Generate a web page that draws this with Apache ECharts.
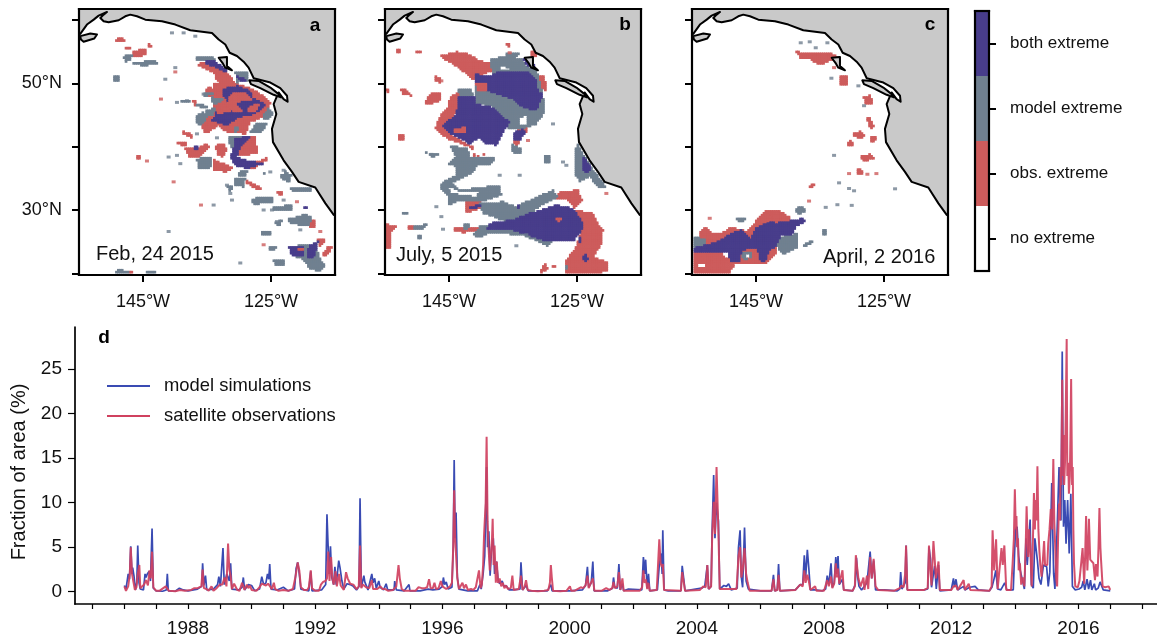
<!DOCTYPE html>
<html><head><meta charset="utf-8">
<style>html,body{margin:0;padding:0;background:#fff}#c{width:1157px;height:641px}</style>
<script src="https://cdn.jsdelivr.net/npm/echarts@6/dist/echarts.min.js"></script>
</head><body><div id="c"></div>
<script>
// ---------- time series (year, % of area) ----------
const modelSeries=[[1986,.7],[1986.05,.3],[1986.12,2],[1986.16,1.4],[1986.2,5.1],[1986.24,2],[1986.26,2.7],[1986.3,1.8],[1986.35,.2],[1986.39,1],[1986.42,5.2],[1986.46,1],[1986.5,.3],[1986.6,.2],[1986.65,2],[1986.68,1.6],[1986.72,2],[1986.78,2.3],[1986.82,1.2],[1986.87,7.1],[1986.91,.4],[1987,.1],[1987.2,.05],[1987.32,.2],[1987.35,2],[1987.38,.1],[1987.6,.05],[1987.73,.4],[1987.85,.2],[1988,.1],[1988.3,.3],[1988.43,.6],[1988.46,3.2],[1988.5,.7],[1988.55,1.8],[1988.59,.2],[1988.8,.3],[1988.93,.8],[1988.97,1.7],[1989.02,.6],[1989.07,.7],[1989.1,4.9],[1989.14,.8],[1989.22,2],[1989.3,1.2],[1989.34,3.2],[1989.38,.3],[1989.6,.2],[1989.7,.5],[1989.74,1.6],[1989.78,.2],[1989.9,.8],[1990,.7],[1990.1,.1],[1990.25,.3],[1990.32,1.7],[1990.38,.8],[1990.45,1],[1990.5,2],[1990.54,1.4],[1990.57,3.1],[1990.61,.3],[1990.8,.2],[1991,.5],[1991.15,.1],[1991.35,.3],[1991.4,2.6],[1991.45,3.3],[1991.5,2],[1991.55,.3],[1991.8,.1],[1991.86,2.3],[1991.9,.1],[1992.2,.2],[1992.33,.8],[1992.37,8.7],[1992.4,5.7],[1992.44,2],[1992.48,5.1],[1992.52,1.6],[1992.58,.8],[1992.62,2.8],[1992.66,.8],[1992.74,3.5],[1992.78,2.7],[1992.84,1.2],[1992.9,.3],[1993,.9],[1993.1,.8],[1993.2,.6],[1993.3,.2],[1993.38,.6],[1993.41,10.5],[1993.45,.5],[1993.53,1.8],[1993.56,1.1],[1993.6,1.3],[1993.66,.2],[1993.78,2],[1993.82,1],[1993.87,1.5],[1993.92,.4],[1994,1.2],[1994.04,.5],[1994.15,.2],[1994.23,.9],[1994.28,.2],[1994.48,.2],[1994.5,1.2],[1994.55,.2],[1994.8,.1],[1994.95,.8],[1994.98,.1],[1995.3,.1],[1995.55,.3],[1995.7,.2],[1995.9,.3],[1996,.6],[1996.03,1.6],[1996.07,.8],[1996.12,1.1],[1996.18,.3],[1996.3,.5],[1996.34,5],[1996.37,14.8],[1996.4,6],[1996.43,8.9],[1996.47,1.6],[1996.52,.3],[1996.58,.2],[1996.8,.1],[1997.1,.1],[1997.18,.8],[1997.22,.3],[1997.28,2],[1997.33,4],[1997.39,14],[1997.42,5],[1997.46,6.8],[1997.5,1.8],[1997.55,5],[1997.6,6],[1997.64,2],[1997.7,3.4],[1997.75,1.4],[1997.8,.9],[1997.88,1.2],[1997.93,.6],[1998,.7],[1998.1,.2],[1998.2,.2],[1998.44,.3],[1998.47,3.3],[1998.52,.2],[1998.63,.7],[1998.7,.1],[1999.3,.1],[1999.41,.8],[1999.45,.1],[2000,.1],[2000.4,.2],[2000.5,.7],[2000.56,2.8],[2000.6,.5],[2000.68,1],[2000.73,3.4],[2000.77,.1],[2001.2,.1],[2001.35,.4],[2001.38,1.6],[2001.42,.5],[2001.5,.4],[2001.55,3.1],[2001.59,.2],[2001.66,.9],[2001.7,.1],[2001.85,.3],[2001.9,.1],[2002.27,.2],[2002.32,3.9],[2002.36,2],[2002.39,3.6],[2002.44,.4],[2002.48,2],[2002.52,.1],[2002.76,.2],[2002.82,3],[2002.88,4.3],[2002.91,2],[2002.93,6.9],[2002.97,.2],[2003.1,.1],[2003.5,.1],[2003.54,2.9],[2003.59,1.4],[2003.63,.1],[2004.15,.4],[2004.25,.6],[2004.33,3],[2004.37,.3],[2004.45,.6],[2004.48,6.7],[2004.53,13.1],[2004.57,6],[2004.62,10],[2004.68,7.9],[2004.72,.3],[2004.85,.7],[2004.93,.6],[2005,.9],[2005.08,.2],[2005.27,.4],[2005.31,5],[2005.36,6.9],[2005.4,1.6],[2005.44,.5],[2005.5,7.2],[2005.55,1.2],[2005.62,.3],[2006,.1],[2006.35,.1],[2006.41,1.9],[2006.45,.1],[2006.53,.2],[2006.57,3.1],[2006.61,.1],[2007.1,.2],[2007.25,.8],[2007.33,.8],[2007.38,4.1],[2007.42,1.5],[2007.475,4.7],[2007.52,2.7],[2007.57,.2],[2007.72,.2],[2007.95,.1],[2008.05,.3],[2008.1,1.8],[2008.15,.8],[2008.22,3.2],[2008.26,.5],[2008.32,1],[2008.37,3.9],[2008.4,2],[2008.44,4],[2008.48,.8],[2008.58,1.4],[2008.62,.2],[2008.9,.1],[2008.98,.8],[2009.02,3.8],[2009.06,1.6],[2009.1,.6],[2009.18,.2],[2009.35,1],[2009.45,4.5],[2009.5,1.5],[2009.56,3.5],[2009.62,.2],[2009.9,.2],[2010.3,.1],[2010.38,.3],[2010.41,2.2],[2010.45,.3],[2010.55,1],[2010.58,5.2],[2010.62,.2],[2011.15,.2],[2011.26,.3],[2011.3,5],[2011.35,3.6],[2011.38,.5],[2011.44,2],[2011.48,2.9],[2011.53,.3],[2011.6,3],[2011.64,.1],[2012,.2],[2012.07,1.5],[2012.1,.5],[2012.15,1.4],[2012.2,.2],[2012.39,.6],[2012.43,.2],[2012.58,.5],[2012.75,.6],[2012.85,.2],[2013.2,.1],[2013.28,.5],[2013.35,1.5],[2013.4,2.4],[2013.46,.3],[2013.56,.2],[2013.68,1],[2013.75,.2],[2013.95,.2],[2014.02,7],[2014.07,7.3],[2014.12,4],[2014.17,2.4],[2014.22,2.3],[2014.3,.3],[2014.35,6],[2014.39,3],[2014.48,8.1],[2014.52,.8],[2014.58,.4],[2014.63,6],[2014.71,3.5],[2014.76,1.5],[2014.82,.8],[2014.9,3],[2015,2.8],[2015.05,.6],[2015.1,2.2],[2015.16,12.2],[2015.22,2],[2015.26,.3],[2015.33,7],[2015.39,14],[2015.45,8],[2015.49,27],[2015.53,7.3],[2015.57,10.3],[2015.61,5.4],[2015.66,10.3],[2015.71,4.3],[2015.76,11],[2015.81,.6],[2015.9,.2],[2016.02,.3],[2016.1,.5],[2016.15,1.2],[2016.2,.2],[2016.27,1.4],[2016.32,.3],[2016.38,1.3],[2016.42,.2],[2016.5,.9],[2016.54,.2],[2016.62,.4],[2016.68,1.1],[2016.72,1.3],[2016.78,.2],[2017,.1]];
const obsSeries=[[1986,.6],[1986.05,.1],[1986.12,.6],[1986.17,2],[1986.2,5],[1986.24,2],[1986.28,1.2],[1986.33,.2],[1986.38,.5],[1986.42,2],[1986.47,3],[1986.5,.4],[1986.56,.2],[1986.62,.8],[1986.68,1.3],[1986.74,.7],[1986.79,2.4],[1986.83,1.5],[1986.87,4.5],[1986.91,.5],[1986.96,.6],[1987,.1],[1987.1,.1],[1987.3,.6],[1987.36,.5],[1987.4,.1],[1987.6,.05],[1987.75,.2],[1987.9,.1],[1988.1,.2],[1988.2,.4],[1988.3,.4],[1988.42,.6],[1988.46,2.5],[1988.5,.4],[1988.58,.3],[1988.65,.1],[1988.74,.6],[1988.8,.1],[1988.9,.4],[1989,.8],[1989.08,.8],[1989.15,1.6],[1989.21,.6],[1989.26,5.4],[1989.3,2.5],[1989.34,1.8],[1989.38,.3],[1989.45,.9],[1989.5,.8],[1989.55,.2],[1989.62,.1],[1989.7,1],[1989.74,1.1],[1989.78,.2],[1989.85,.8],[1989.9,.4],[1989.95,.7],[1990,.2],[1990.15,.1],[1990.25,.5],[1990.32,.9],[1990.38,.8],[1990.45,.7],[1990.52,.9],[1990.58,1.1],[1990.64,.3],[1990.7,1],[1990.74,.3],[1990.85,.1],[1991,.2],[1991.15,.1],[1991.3,.3],[1991.38,1.7],[1991.45,3.3],[1991.5,2.4],[1991.55,.5],[1991.65,.2],[1991.75,.2],[1991.8,.5],[1991.86,2.4],[1991.9,.4],[1992,.1],[1992.12,.1],[1992.18,.8],[1992.25,1.1],[1992.32,1.2],[1992.37,1.5],[1992.41,4.5],[1992.45,1.2],[1992.5,3.9],[1992.54,1.5],[1992.58,.8],[1992.64,2.3],[1992.68,.6],[1992.75,2],[1992.8,.7],[1992.85,.9],[1992.9,.2],[1992.97,2.2],[1993.02,1.5],[1993.1,.9],[1993.2,.8],[1993.3,.3],[1993.37,.6],[1993.41,5.2],[1993.45,.4],[1993.5,.8],[1993.55,1],[1993.6,.5],[1993.7,.4],[1993.78,1.3],[1993.82,.3],[1993.88,.5],[1993.95,.3],[1994.05,.6],[1994.12,.3],[1994.2,.3],[1994.3,.1],[1994.45,.2],[1994.55,.6],[1994.62,3],[1994.66,1.5],[1994.72,.3],[1994.8,.1],[1994.9,.1],[1995,.1],[1995.15,.1],[1995.25,.5],[1995.35,.4],[1995.45,.4],[1995.52,.5],[1995.58,1.4],[1995.63,.4],[1995.7,.4],[1995.75,1],[1995.8,.3],[1995.88,.4],[1995.95,1.2],[1996,.6],[1996.05,.7],[1996.12,.3],[1996.18,.2],[1996.24,.6],[1996.3,1],[1996.34,5],[1996.37,11.4],[1996.4,6],[1996.43,6.2],[1996.47,1.5],[1996.52,.3],[1996.58,.2],[1996.63,1],[1996.68,.4],[1996.74,.8],[1996.8,.2],[1996.9,.3],[1996.97,.2],[1997.05,.5],[1997.1,.4],[1997.15,2.4],[1997.2,.4],[1997.24,.8],[1997.28,3],[1997.31,6.4],[1997.34,6.4],[1997.36,10],[1997.39,17.4],[1997.42,7.9],[1997.45,5],[1997.49,2.4],[1997.52,4],[1997.56,6],[1997.58,8.2],[1997.61,3],[1997.64,5.2],[1997.68,1],[1997.71,3.4],[1997.75,1],[1997.8,1.5],[1997.85,.6],[1997.9,1],[1997.95,.4],[1998,.7],[1998.06,.3],[1998.1,.5],[1998.15,.4],[1998.2,1.8],[1998.24,.2],[1998.3,.1],[1998.4,.3],[1998.47,1.8],[1998.52,.2],[1998.58,.5],[1998.63,1.3],[1998.68,.2],[1998.8,.1],[1999,.05],[1999.2,.1],[1999.33,.2],[1999.38,1],[1999.41,3],[1999.44,1.6],[1999.48,.1],[1999.7,.05],[1999.9,.1],[2000.01,.6],[2000.05,.1],[2000.15,.1],[2000.25,.3],[2000.35,.5],[2000.42,.4],[2000.5,.7],[2000.56,1.8],[2000.6,.4],[2000.65,.5],[2000.73,1.5],[2000.78,.1],[2001,.1],[2001.15,.4],[2001.25,.2],[2001.34,.4],[2001.38,1.1],[2001.42,.4],[2001.5,.6],[2001.55,2.2],[2001.6,.2],[2001.66,1.5],[2001.7,.1],[2002.2,.1],[2002.28,.5],[2002.32,2.4],[2002.36,1],[2002.4,1.4],[2002.44,.3],[2002.48,1],[2002.52,.1],[2002.74,.2],[2002.78,3],[2002.82,5.9],[2002.86,3.2],[2002.9,2.8],[2002.93,3.1],[2002.97,.2],[2003.5,.1],[2003.54,2.2],[2003.6,2.2],[2003.63,.1],[2004.1,.2],[2004.2,.6],[2004.28,.5],[2004.33,3],[2004.37,.3],[2004.45,.6],[2004.48,5.8],[2004.53,10.1],[2004.57,6.5],[2004.62,14],[2004.68,6.5],[2004.72,.3],[2005.25,.3],[2005.31,4],[2005.36,5],[2005.4,1.6],[2005.44,2.4],[2005.5,4.9],[2005.55,2],[2005.6,1],[2005.66,.1],[2006.35,.1],[2006.41,1.4],[2006.45,.1],[2006.53,.2],[2006.57,1.9],[2006.61,.1],[2007.1,.2],[2007.25,.8],[2007.33,.6],[2007.38,2.4],[2007.42,1],[2007.475,1.9],[2007.52,1.2],[2007.57,.2],[2007.72,.6],[2007.76,.1],[2008,.1],[2008.1,1.3],[2008.15,.6],[2008.22,1.7],[2008.26,.4],[2008.32,.9],[2008.37,3.2],[2008.4,1.6],[2008.44,2.6],[2008.48,.9],[2008.58,2.4],[2008.62,.2],[2008.9,.1],[2008.97,.6],[2009,4.1],[2009.04,4],[2009.08,1.5],[2009.15,.6],[2009.24,1.6],[2009.27,.2],[2009.35,1.8],[2009.39,.3],[2009.45,3.9],[2009.5,1.5],[2009.56,3.7],[2009.62,.6],[2009.7,.2],[2010.2,.1],[2010.38,.4],[2010.43,.7],[2010.5,.5],[2010.55,2],[2010.58,5.2],[2010.62,.2],[2011.15,.2],[2011.26,.4],[2011.3,5.2],[2011.35,2],[2011.38,.7],[2011.44,5.7],[2011.48,5.8],[2011.52,1.5],[2011.6,3.4],[2011.64,.2],[2012,.2],[2012.07,.6],[2012.15,.7],[2012.2,.2],[2012.39,1.3],[2012.43,.2],[2012.55,.9],[2012.6,.2],[2013.2,.1],[2013.27,.6],[2013.3,6.9],[2013.35,2.4],[2013.41,5.9],[2013.46,.3],[2013.52,.3],[2013.58,4.9],[2013.62,3],[2013.67,5.2],[2013.73,.2],[2013.88,.2],[2013.93,3.2],[2013.97,6],[2014,11.5],[2014.03,7],[2014.05,8.5],[2014.07,5],[2014.1,6],[2014.12,2.4],[2014.16,3.2],[2014.2,.8],[2014.25,1.6],[2014.3,.6],[2014.34,5],[2014.37,9.6],[2014.4,6],[2014.42,3.9],[2014.45,7],[2014.48,5.4],[2014.53,.6],[2014.57,6],[2014.6,11.1],[2014.63,7],[2014.65,10.3],[2014.68,8],[2014.71,14.1],[2014.74,7],[2014.77,4.7],[2014.8,3],[2014.84,1.7],[2014.88,3.5],[2014.92,5.7],[2014.95,3],[2014.98,3.2],[2015.02,3],[2015.05,5.4],[2015.09,7],[2015.13,9.3],[2015.17,7],[2015.21,14.9],[2015.24,8],[2015.27,5],[2015.3,1.5],[2015.33,.6],[2015.36,6],[2015.39,9.9],[2015.42,8],[2015.44,14],[2015.46,12],[2015.49,23.8],[2015.51,13],[2015.53,17.6],[2015.55,12],[2015.58,14.8],[2015.6,20],[2015.63,28.4],[2015.65,13],[2015.68,14.5],[2015.7,11],[2015.73,13],[2015.75,18],[2015.77,23.9],[2015.8,12],[2015.82,14],[2015.84,7],[2015.86,3.2],[2015.9,.6],[2015.98,.5],[2016.03,1.2],[2016.08,3],[2016.13,4.9],[2016.18,.9],[2016.21,4],[2016.24,8.5],[2016.28,2.4],[2016.31,5],[2016.33,8.2],[2016.37,3.6],[2016.42,3.7],[2016.47,3.2],[2016.52,1.3],[2016.55,3.1],[2016.6,1.7],[2016.63,5],[2016.66,9.4],[2016.69,5],[2016.71,3.6],[2016.76,.6],[2016.84,.5],[2016.95,.6],[2017,.2]];
const yearTicks=[1985,1986,1987,1988,1989,1990,1991,1992,1993,1994,1995,1996,1997,1998,1999,2000,2001,2002,2003,2004,2005,2006,2007,2008,2009,2010,2011,2012,2013,2014,2015,2016,2017,2018];
const yearLabels=[1988,1992,1996,2000,2004,2008,2012,2016];
const fractionTicks=[0,5,10,15,20,25];
const seriesNames=['model simulations','satellite observations'];
const extremeCategories=['no extreme','obs. extreme','model extreme','both extreme'];
const extremeColors=['#ffffff','#cd5c5c','#708090','#483d8b'];
const mapLonTicks=[-145,-125], mapLatTicks=[20,30,40,50,60], mapLatLabels=[30,50];
// ---------- coastline [lon, lat] ----------
const coast=[[-156,57.4],[-154.8,57.84],[-153.76,59.31],[-152.7,60.09],[-151.93,60.72],[-150.63,61.3],[-151.15,60.88],[-151.67,60.35],[-151.15,59.83],[-150.37,59.67],[-148.8,59.99],[-147.77,60.62],[-146.99,60.88],[-145.94,60.62],[-144.64,60.09],[-142.04,59.83],[-139.95,59.31],[-137.61,58.42],[-134.22,57.99],[-133.18,56.95],[-132.14,56.17],[-131.46,54.86],[-130.32,54.34],[-129.28,53.45],[-128.5,52.5],[-127.7,50.83],[-125.1,50.15],[-123.55,49.26],[-122.5,48.06],[-122.4,47.11],[-123.03,47.53],[-123.81,48.58],[-124.59,46.75],[-124.17,45.18],[-124.85,42.82],[-124.69,40.73],[-123.03,37.85],[-121.72,36.02],[-120.68,34.45],[-118.08,33.56],[-116.5,31.05],[-115.2,29.22],[-114.5,28.9],[-114,28.9],[-114,63],[-156,63]];
const islands=[[[-128.39,50.5],[-126.93,50.41],[-125.1,49.36],[-123.81,48.32],[-123.44,47.8],[-124.59,48.21],[-126.67,49.26],[-128.13,49.89]],[[-154.8,57.48],[-153.23,57.9],[-152.19,57.74],[-152.61,57.11],[-154.28,56.59],[-154.7,56.95]],[[-133.18,54.07],[-131.88,54.18],[-131.88,52.77],[-131.1,52.09],[-132.14,52.5],[-132.5,53.13]]];
// ---------- extreme patches, outlines given as (col,row) on a fine raster; origin and step below -----
const rasterLat0=62.97, rasterStep=[0.052083,0.05233];
const rasterLon0={a:-156.36,b:-155.83,c:-155.98};
const obsA=[[[140,105],[150,110],[165,115],[165,120],[138,120]],[[190,150],[225,143],[228,160],[210,168],[190,165]],[[165,139],[180,139],[180,144],[165,144]],[[238,127],[246,137],[232,137]],[[378,190],[420,178],[440,195],[470,215],[490,240],[470,255],[440,240],[430,215],[395,200]],[[430,250],[480,240],[560,270],[600,305],[590,345],[540,365],[525,400],[470,395],[445,375],[405,400],[390,365],[425,340],[430,300]],[[345,445],[375,445],[410,428],[418,440],[385,470],[355,470]],[[435,435],[460,428],[470,450],[455,472],[440,460]],[[505,405],[555,410],[562,460],[505,465]],[[427,475],[460,490],[490,505],[470,515],[430,510]],[[505,475],[545,490],[595,470],[590,480],[550,505],[510,495]],[[530,540],[575,565],[565,570],[525,548]],[[615,572],[640,575],[630,588]],[[715,660],[733,662],[733,685],[718,685]],[[740,715],[762,718],[760,735],[745,740]],[[775,738],[790,738],[770,768],[755,765]],[[200,465],[210,465],[210,478],[200,478]],[[150,815],[185,812],[185,822],[150,822]],[[230,815],[255,815],[255,822],[228,822]],[[365,300],[378,300],[378,322]],[[410,262],[425,255],[430,290],[405,285]],[[320,425],[345,425],[352,437],[320,432]],[[340,392],[370,402],[365,412],[340,400]]];
const modelA=[[[160,165],[185,162],[182,180],[165,182]],[[188,185],[255,178],[260,188],[225,195],[190,190]],[[130,225],[145,225],[145,240],[130,240]],[[380,168],[425,165],[440,180],[400,180],[380,180]],[[495,215],[530,215],[535,240],[500,245]],[[375,345],[400,335],[412,345],[395,375],[375,365]],[[378,475],[425,470],[420,505],[385,505]],[[475,410],[520,405],[510,440],[480,445]],[[495,535],[525,535],[520,560],[495,558]],[[545,595],[610,590],[605,610],[548,612]],[[610,620],[665,615],[665,632],[610,630]],[[650,655],[690,650],[695,640],[725,650],[715,680],[660,670]],[[660,740],[740,730],[745,770],[765,800],[750,815],[720,810],[700,780],[670,770]],[[610,780],[645,778],[640,795],[612,795]],[[135,815],[150,810],[190,822],[130,822]],[[230,812],[275,822],[222,822]],[[660,565],[725,562],[720,575],[665,575]],[[595,320],[610,340],[590,360],[575,350]],[[555,370],[590,370],[575,395],[540,395]],[[630,520],[660,530],[660,545],[635,540]],[[490,375],[510,385],[495,395]],[[575,695],[600,695],[600,705],[575,705]],[[595,740],[620,738],[615,750],[600,755]],[[425,290],[460,295],[440,310],[420,305]],[[505,515],[535,510],[525,528],[505,528]],[[380,310],[410,315],[410,321],[380,318]],[[395,280],[425,272],[428,280],[400,288]],[[330,302],[358,298],[358,306],[330,307]],[[470,555],[490,560],[478,575]],[[615,665],[635,660],[632,680],[618,680]],[[640,510],[665,525],[660,532],[640,518]],[[575,520],[590,515],[585,525]],[[405,330],[435,320],[430,345],[400,350]]];
const bothA=[[[455,265],[500,255],[540,270],[545,290],[585,310],[570,330],[540,345],[490,350],[470,370],[430,355],[440,330],[480,325],[470,300],[460,285]],[[440,340],[520,340],[490,360],[470,375],[425,360]],[[405,180],[430,178],[445,190],[470,205],[470,215],[440,200],[410,190]],[[490,415],[545,405],[510,440],[500,470],[530,480],[580,490],[530,505],[495,495],[480,470],[490,440]],[[655,740],[700,740],[700,768],[665,768]],[[715,740],[745,725],[730,775],[710,775]],[[495,225],[530,235],[515,245]],[[700,618],[715,625],[705,630]],[[370,438],[386,438],[382,446],[372,446]]];
const obsTopA=[[[480,280],[520,275],[550,300],[515,300],[495,310],[515,330],[490,335],[470,310]],[[540,315],[570,310],[555,335],[530,335]],[[440,330],[470,322],[480,330],[445,340]],[[680,745],[700,748],[690,755]]];
const obsB=[[[180,165],[230,152],[270,160],[300,180],[335,185],[360,210],[320,215],[280,240],[255,215],[220,190]],[[210,290],[240,270],[245,300],[225,340],[210,400],[280,440],[280,470],[320,460],[295,470],[270,440],[205,415],[165,385],[185,340],[205,320]],[[165,225],[185,235],[183,245],[165,243]],[[150,280],[185,272],[185,300],[150,310],[135,308]],[[60,262],[85,270],[95,285],[70,280]],[[18,262],[30,265],[28,275],[18,272]],[[45,148],[60,145],[62,155],[50,155]],[[110,150],[128,152],[128,158],[112,158]],[[380,125],[392,128],[392,138],[382,135]],[[58,403],[72,403],[72,420],[58,420]],[[455,150],[475,150],[470,165],[455,165]],[[470,225],[495,225],[500,270],[475,260]],[[15,670],[48,680],[30,700],[35,745],[15,745]],[[85,675],[100,675],[100,688],[85,688]],[[540,575],[595,570],[608,600],[585,625],[565,600],[530,597]],[[585,630],[640,640],[650,665],[670,690],[665,735],[640,770],[685,790],[685,815],[650,820],[560,820],[555,790],[590,740],[610,680]],[[495,785],[505,810],[480,820],[490,805]],[[515,795],[530,795],[530,803],[517,803]],[[255,605],[305,605],[310,620],[265,640],[255,635]],[[220,685],[305,680],[320,690],[250,698],[225,695]],[[405,380],[440,378],[440,395],[420,400]],[[405,410],[420,425],[410,435],[400,430]]];
const modelB=[[[330,175],[385,165],[430,175],[440,195],[470,205],[490,280],[495,335],[470,370],[430,385],[385,385],[370,350],[340,320],[300,310],[285,290],[330,280],[340,220]],[[235,265],[275,262],[280,285],[240,290]],[[240,290],[300,290],[300,320],[240,320]],[[285,245],[340,275],[340,320],[285,300]],[[210,435],[265,445],[270,470],[310,470],[345,470],[340,490],[295,495],[275,520],[245,535],[215,548],[240,570],[360,555],[365,585],[320,600],[240,600],[205,618],[205,590],[180,565],[188,545],[228,525],[230,500],[205,490],[228,470]],[[300,610],[370,605],[410,620],[440,605],[520,570],[535,590],[470,625],[450,650],[390,670],[340,650],[310,640]],[[300,680],[400,680],[520,725],[505,740],[430,705],[330,700],[298,715],[282,705]],[[395,430],[425,445],[425,462],[395,455]],[[590,425],[610,460],[645,515],[680,560],[660,565],[630,530],[600,545],[585,520]],[[495,465],[510,465],[510,485],[495,490]],[[100,680],[145,672],[130,690],[100,690]],[[115,705],[128,710],[128,718],[112,718]],[[65,635],[85,635],[80,645],[65,645]],[[135,455],[180,462],[160,470]],[[250,670],[270,670],[265,690],[250,685]],[[555,790],[565,800],[555,815]],[[378,155],[425,155],[415,165],[380,165]]];
const bothB=[[[285,220],[330,225],[360,212],[450,215],[470,235],[475,270],[490,280],[470,330],[430,320],[400,295],[340,275],[322,270],[320,250],[285,245]],[[235,315],[290,310],[340,320],[365,345],[390,365],[370,395],[350,435],[320,430],[300,410],[270,430],[205,395],[190,375],[230,340]],[[235,290],[285,285],[290,310],[235,320]],[[330,670],[400,660],[450,640],[530,615],[580,625],[605,660],[610,685],[580,725],[500,725],[400,690],[320,690]],[[610,470],[635,500],[625,520],[612,510]],[[405,395],[430,385],[440,395],[420,420],[403,420]],[[265,620],[305,615],[280,628]],[[415,615],[425,620],[415,628]],[[610,770],[620,760],[625,780],[615,790]],[[595,710],[605,710],[600,730]],[[430,175],[455,170],[470,205],[445,195]]];
const obsTopB=[[[220,385],[260,380],[255,395],[225,395]],[[525,650],[545,655],[540,670]],[[285,245],[320,245],[320,272],[295,268]]];
const holesB=[[[360,195],[390,200],[385,210],[360,205]],[[420,350],[445,345],[440,375],[418,370]],[[205,560],[240,572],[300,572],[290,590],[215,580]]];
const obsC=[[[330,152],[385,155],[430,155],[460,170],[465,190],[440,175],[410,190],[385,185],[375,175],[345,172]],[[465,225],[488,222],[485,255],[465,255]],[[533,290],[555,282],[560,308],[540,312]],[[542,352],[552,352],[565,380],[555,385]],[[500,400],[525,392],[537,405],[520,418]],[[555,410],[568,402],[570,420],[555,425]],[[490,422],[498,418],[502,437],[484,437]],[[527,468],[555,460],[565,475],[530,485]],[[512,505],[525,502],[532,525],[518,525]],[[373,555],[387,552],[382,565],[373,565]],[[40,700],[60,678],[80,700],[110,700],[135,682],[185,695],[205,670],[240,632],[280,632],[310,650],[320,705],[270,710],[270,760],[240,790],[180,790],[150,790],[130,820],[22,820],[22,750],[40,750]]];
const modelC=[[[22,710],[60,720],[60,740],[22,745]],[[290,710],[335,700],[335,745],[290,765],[275,740],[275,715]],[[325,625],[355,618],[357,635],[340,645]],[[150,655],[180,655],[170,668],[150,660]],[[350,735],[385,718],[380,730],[355,742]],[[408,692],[425,688],[422,705],[410,708]],[[170,755],[195,755],[197,775],[172,780]]];
const bothC=[[[22,745],[100,725],[130,705],[165,690],[195,715],[210,685],[250,665],[270,670],[300,665],[350,655],[360,665],[330,680],[320,705],[285,705],[270,740],[250,750],[240,785],[225,785],[215,745],[170,750],[160,785],[135,785],[125,755],[60,755],[22,760]]];
const obsTopC=[[[225,650],[250,640],[255,660],[230,670]]];
const holesC=[[[35,790],[55,790],[60,805],[35,805]],[[110,760],[128,760],[125,775],[110,770]],[[178,762],[190,762],[190,772],[178,772]]];
const speckModelA=[[305,95],[340,95],[375,105],[285,235],[315,200],[320,305],[350,300],[395,315],[400,280],[295,470],[330,490],[320,465],[600,515],[640,510],[430,615],[480,580],[485,600],[470,555],[295,695],[510,790],[620,665],[580,630],[605,630],[640,600],[690,690],[380,400],[440,412]];
const speckObsA=[[315,213],[272,295],[230,482],[392,615],[310,545],[680,605],[750,695],[580,735]];
const speckModelB=[[155,462],[185,650],[520,370],[550,485],[560,495],[420,525],[360,525],[170,620],[410,738],[440,705],[190,688]];
const speckObsB=[[390,155],[680,580],[185,240],[445,420]];
const speckModelC=[[345,125],[372,122],[425,125],[390,140],[437,232],[518,255],[535,315],[445,465],[460,548],[490,565],[505,572],[420,622],[455,614],[498,616],[628,566]];
const speckObsC=[[490,520],[545,522],[572,520],[445,200],[72,655],[370,603]];

const C={obs:extremeColors[1],model:extremeColors[2],both:extremeColors[3],land:'#c9c9c9',blue:'#3a4bb3',red:'#d0415f'};
const FONT='"Liberation Sans",Helvetica,Arial,sans-serif';
const LONR=[-155,-115], LATR=[19.73,61.77], CELL=0.3;
const lonlat=(k,p)=>[rasterLon0[k]+p[0]*rasterStep[0],rasterLat0-p[1]*rasterStep[1]];
const panels=[{k:'a',left:79,obs:obsA,model:modelA,both:bothA,top:obsTopA,holes:[],sm:speckModelA,so:speckObsA},
 {k:'b',left:385,obs:obsB,model:modelB,both:bothB,top:obsTopB,holes:holesB,sm:speckModelB,so:speckObsB},
 {k:'c',left:692,obs:obsC,model:modelC,both:bothC,top:obsTopC,holes:holesC,sm:speckModelC,so:speckObsC}];
const grid=[],xAxis=[],yAxis=[],series=[];
const frameX=(g,pos,extra)=>Object.assign({type:'value',gridIndex:g,position:pos,z:10,axisLine:{show:true,onZero:false,lineStyle:{color:'#000',width:2.2,cap:'square'}},axisTick:{show:false},axisLabel:{show:false},splitLine:{show:false}},extra||{});
const inside=(pt,poly)=>{let c=false;for(let i=0,j=poly.length-1;i<poly.length;j=i++){const a=poly[i],b=poly[j];if((a[1]>pt[1])!==(b[1]>pt[1])&&pt[0]<(b[0]-a[0])*(pt[1]-a[1])/(b[1]-a[1])+a[0])c=!c;}return c;};
// sample the read outlines on the map's regular lon/lat raster; the last layer that covers a cell wins
function rasterize(layers){
  const out=layers.map(()=>[]);
  for(let lon=LONR[0]+CELL/2;lon<LONR[1];lon+=CELL)for(let lat=LATR[0]+CELL/2;lat<LATR[1];lat+=CELL){
    for(let l=layers.length-1;l>=0;l--){if(layers[l].polys.some(q=>inside([lon,lat],q))){out[l].push([lon,lat]);break;}}
  }
  return out;
}
function cellSeries(xi,yi,cells,fill){
  return {type:'custom',coordinateSystem:'cartesian2d',xAxisIndex:xi,yAxisIndex:yi,clip:true,silent:true,animation:false,encode:{x:0,y:1},data:cells,
    renderItem:(params,api)=>{const c=api.coord([api.value(0),api.value(1)]),s=api.size([CELL,CELL]);
      return {type:'rect',shape:{x:c[0]-s[0]/2-.4,y:c[1]-s[1]/2-.4,width:s[0]+.8,height:s[1]+.8},style:{fill:fill,stroke:null}};}};
}
function polySeries(xi,yi,polys,fill){
  return {type:'custom',coordinateSystem:'cartesian2d',xAxisIndex:xi,yAxisIndex:yi,clip:true,silent:true,animation:false,
    data:polys.map((p,i)=>[i]),
    renderItem:(params,api)=>({type:'polygon',shape:{points:polys[params.dataIndex].map(q=>api.coord(q))},
      style:{fill:fill,stroke:'#000',lineWidth:2,lineJoin:'round'}})};
}
panels.forEach((p,i)=>{
  grid.push({left:p.left,top:9,width:256,height:266,containLabel:false});
  const xb=xAxis.length, yb=yAxis.length;
  xAxis.push(frameX(i,'bottom',{min:LONR[0],max:LONR[1],
    axisTick:{show:true,length:7,lineStyle:{color:'#000',width:2},customValues:mapLonTicks},
    axisLabel:{show:true,customValues:mapLonTicks,margin:18,fontFamily:FONT,fontSize:18,color:'#111',formatter:v=>Math.abs(v)+'°W'}}));
  xAxis.push(frameX(i,'top',{min:LONR[0],max:LONR[1]}));
  yAxis.push(frameX(i,'left',{min:LATR[0],max:LATR[1],
    axisTick:{show:true,length:7,lineStyle:{color:'#000',width:2},customValues:mapLatTicks},
    axisLabel:{show:i===0,customValues:mapLatLabels,margin:17,fontFamily:FONT,fontSize:18,color:'#111',padding:[4,0,0,0],formatter:v=>v+'°N'}}));
  yAxis.push(frameX(i,'right',{min:LATR[0],max:LATR[1]}));
  const conv=a=>a.map(poly=>poly.map(q=>lonlat(p.k,q)));
  const layers=[{polys:conv(p.obs),c:C.obs},{polys:conv(p.model),c:C.model},{polys:conv(p.both),c:C.both},{polys:conv(p.top),c:C.obs},{polys:conv(p.holes),c:null}];
  const cells=rasterize(layers);
  layers.forEach((l,n)=>{if(l.c&&cells[n].length)series.push(cellSeries(xb,yb,cells[n],l.c));});
  [[p.sm,C.model],[p.so,C.obs]].forEach(([a,c])=>series.push({type:'scatter',xAxisIndex:xb,yAxisIndex:yb,symbol:'rect',symbolSize:[4,3],silent:true,animation:false,itemStyle:{color:c},data:a.map(q=>lonlat(p.k,q))}));
  series.push(polySeries(xb,yb,[coast].concat(islands),C.land));
});
// time-series panel
const tg=grid.length, tx=xAxis.length, ty=yAxis.length;
grid.push({left:75,top:327,width:1082,height:277});
const axLine={show:true,onZero:false,lineStyle:{color:'#000',width:1.7}};
xAxis.push({type:'value',gridIndex:tg,min:1984.447,max:2018.47,axisLine:axLine,splitLine:{show:false},
  axisTick:{show:true,length:5,lineStyle:{color:'#000',width:1.2},customValues:yearTicks},
  axisLabel:{show:true,customValues:yearLabels,margin:15,fontFamily:FONT,fontSize:19,color:'#111',formatter:v=>String(v)}});
yAxis.push({type:'value',gridIndex:tg,min:-1.38,max:29.74,axisLine:axLine,splitLine:{show:false},
  axisTick:{show:true,length:7,lineStyle:{color:'#000',width:1.2},customValues:fractionTicks},
  axisLabel:{show:true,customValues:fractionTicks,margin:13,fontFamily:FONT,fontSize:19,color:'#111'}});
series.push({name:seriesNames[0],type:'line',xAxisIndex:tx,yAxisIndex:ty,data:modelSeries,showSymbol:false,silent:true,animation:false,lineStyle:{color:C.blue,width:1.7},itemStyle:{color:C.blue}});
series.push({name:seriesNames[1],type:'line',xAxisIndex:tx,yAxisIndex:ty,data:obsSeries,showSymbol:false,silent:true,animation:false,lineStyle:{color:C.red,width:2,opacity:.92},itemStyle:{color:C.red}});
// colour bar
const cg=grid.length, cx=xAxis.length, cy=yAxis.length;
grid.push({left:975,top:11,width:14,height:260});
xAxis.push(frameX(cg,'bottom',{min:0,max:1}));
xAxis.push(frameX(cg,'top',{min:0,max:1}));
yAxis.push(Object.assign(frameX(cg,'right'),{type:'category',data:extremeCategories,
  axisTick:{show:true,alignWithLabel:true,length:7,lineStyle:{color:'#000',width:2}},
  axisLabel:{show:true,margin:21,fontFamily:FONT,fontSize:17,color:'#111'}}));
yAxis.push(Object.assign(frameX(cg,'left'),{type:'category',data:extremeCategories}));
series.push({type:'bar',xAxisIndex:cx,yAxisIndex:cy,barWidth:'100%',silent:true,animation:false,
  data:extremeCategories.map((c,i)=>({value:1,itemStyle:{color:extremeColors[i]}}))});
const txt=(x,y,s,o)=>({type:'text',x:x,y:y,z:50,silent:true,style:Object.assign({text:s,fontFamily:FONT,fontSize:20,fill:'#111',align:'left',verticalAlign:'middle'},o||{})});
const bold={fontWeight:'bold',fontSize:19,fill:'#000',align:'center'};
const graphic=[txt(315,26,'a',bold),txt(625,25,'b',bold),txt(930,25,'c',bold),txt(104,338,'d',bold),
  txt(96,254,'Feb, 24 2015'),txt(396,255,'July, 5 2015'),txt(823,257,'April, 2 2016'),
  Object.assign(txt(19,472,'Fraction of area (%)',{align:'center',fontSize:20}),{rotation:Math.PI/2})];
const chart=echarts.init(document.getElementById('c'),null,{renderer:'canvas'});
chart.setOption({animation:false,backgroundColor:'#fff',grid,xAxis,yAxis,series,graphic,
  legend:{show:true,data:seriesNames,orient:'vertical',left:102,top:372,itemWidth:43,itemHeight:2,itemGap:12,icon:'rect',selectedMode:false,
    textStyle:{fontFamily:FONT,fontSize:18.4,color:'#111',padding:[0,0,0,9]}}});
</script></body></html>
